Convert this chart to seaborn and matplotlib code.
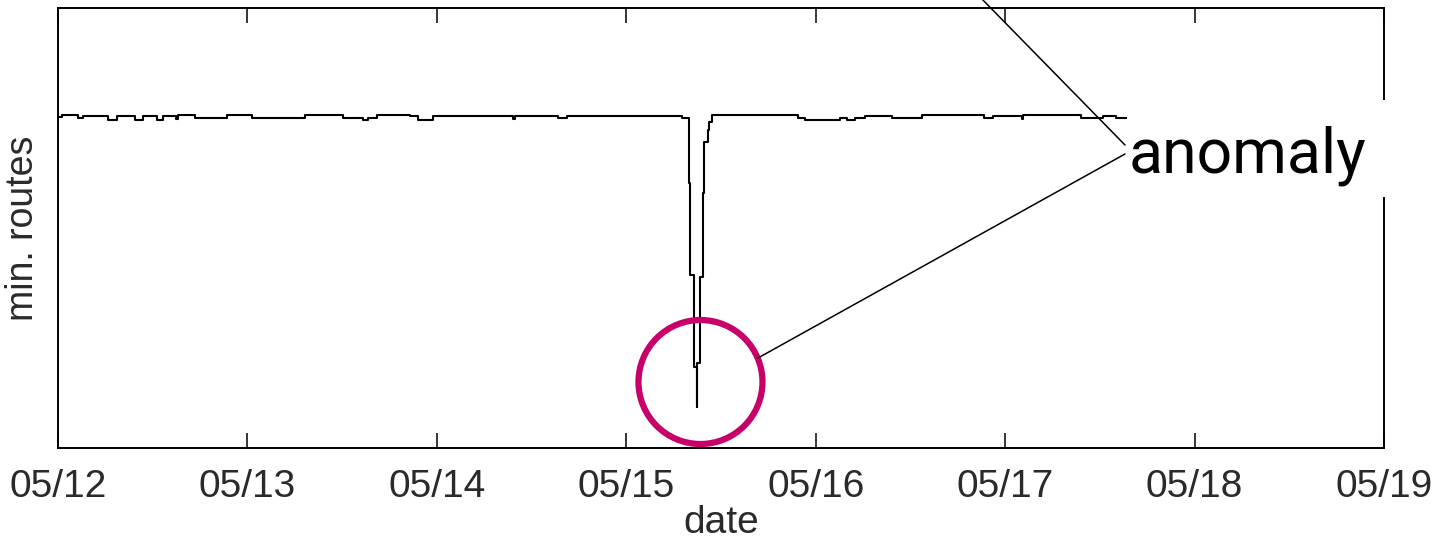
import numpy as np
import pandas as pd
import matplotlib
matplotlib.use("Agg")
import matplotlib.pyplot as plt
from matplotlib.patches import Ellipse, Rectangle
import seaborn as sns

# ---- data (hours since 05/12 00:00, minimum number of routes) ----
hours = [0.0, 0.5, 2.5, 3.2, 6.3, 7.5, 9.8, 10.8, 12.6, 13.3, 15.0, 15.2,
         17.4, 21.4, 24.6, 31.3, 36.1, 38.7, 39.3, 40.4, 44.6, 45.6, 47.5,
         57.7, 57.9, 63.4, 64.5, 79.1, 79.9, 80.1, 80.6, 81.0, 81.0, 81.4,
         81.7, 81.9, 82.3, 82.5, 82.8, 93.8, 94.7, 99.1, 100.0, 101.0, 102.3,
         105.7, 109.5, 117.3, 118.4, 122.1, 122.3, 129.6, 132.4, 134.0, 135.5]
min_routes = [331, 333, 330, 332, 328, 332, 328, 332, 328, 332, 329, 333,
              330, 333, 330, 333, 330, 328, 330, 333, 332, 328, 332,
              329, 332, 330, 332, 330, 265, 173, 81, 41, 85, 171,
              255, 306, 318, 326, 333, 330, 328, 330, 328, 330, 332,
              330, 333, 330, 332, 329, 333, 330, 332, 330, 330]
tick_hours = [0, 24, 48, 72, 96, 120, 144, 168]
tick_labels = ["05/12", "05/13", "05/14", "05/15", "05/16", "05/17", "05/18", "05/19"]
annotation_text = "anomaly"

df = pd.DataFrame({"hours": hours, "routes": min_routes})

sns.set_theme(style="white")
plt.rcParams["font.family"] = ["Liberation Sans", "DejaVu Sans"]

W, H = 1438, 543
fig = plt.figure(figsize=(W / 100, H / 100), dpi=100)
ax = fig.add_axes([58 / W, 1 - 448 / H, (1384 - 58) / W, (448 - 8) / H])

sns.lineplot(data=df, x="hours", y="routes", ax=ax, estimator=None, sort=False,
             color="black", lw=1.5, drawstyle="steps-post", zorder=3)

ax.set_xlim(0, 168)
ax.set_ylim(0, 440)
ax.set_xticks(tick_hours)
ax.set_xticklabels(tick_labels)
ax.set_yticks([])
ax.tick_params(axis="x", direction="in", length=11, width=1.1, top=True,
               bottom=True, labelsize=28, labelcolor="#2a2a2a", pad=15, color="black")
for s in ax.spines.values():
    s.set_visible(True)
    s.set_color("black")
    s.set_linewidth(1.4)
ax.set_xlabel("date", fontsize=28, color="#2a2a2a", labelpad=0)
ax.set_ylabel("min. routes", fontsize=27, color="#2a2a2a", labelpad=12)

# circle around the minimum
imin = int(np.argmin(min_routes))
cx = hours[imin] + 0.4
cy = min_routes[imin] + 25
r_px = 62
hpp = 168 / (1384 - 58)   # hours per pixel
vpp = 440 / (448 - 8)     # value per pixel
circ = Ellipse((cx, cy), width=2 * r_px * hpp, height=2 * r_px * vpp,
               fill=False, edgecolor="#C8006A", lw=4.5, zorder=6, clip_on=False)
ax.add_patch(circ)

# white box + annotation text
fig.add_artist(Rectangle((1127 / W, 1 - 197 / H), (1389 - 1127) / W, 97 / H,
                         transform=fig.transFigure, facecolor="white",
                         edgecolor="none", zorder=10))
fig.text(1129 / W, 1 - 172 / H, annotation_text, fontsize=45, family="Roboto",
         color="black", ha="left", va="baseline", zorder=11)

theta = np.arctan2(25, 60)
edge = (cx + r_px * np.cos(theta) * hpp, cy + r_px * np.sin(theta) * vpp)
ax.annotate("", xy=edge, xycoords="data", xytext=(1125 / W, 1 - 154 / H),
            textcoords="figure fraction",
            arrowprops=dict(arrowstyle="-", lw=1.1, color="black", shrinkA=0, shrinkB=0),
            annotation_clip=False, zorder=9)
ax.annotate("", xy=(978 / W, 1 + 5 / H), xycoords="figure fraction",
            xytext=(1125 / W, 1 - 145 / H), textcoords="figure fraction",
            arrowprops=dict(arrowstyle="-", lw=1.1, color="black", shrinkA=0, shrinkB=0),
            annotation_clip=False, zorder=9)

fig.savefig("out.png", dpi=100, facecolor="white")
